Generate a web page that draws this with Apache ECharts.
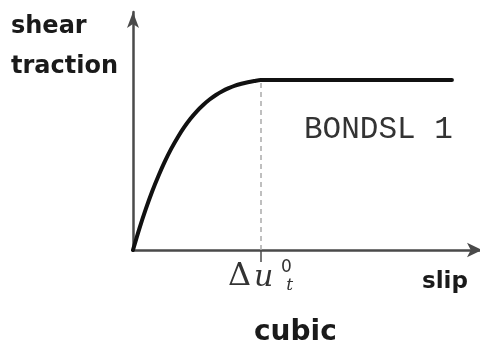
<!DOCTYPE html>
<html>
<head>
<meta charset="utf-8">
<script src="https://cdn.jsdelivr.net/npm/echarts@6/dist/echarts.min.js"></script>
<style>
  html, body { margin: 0; padding: 0; background: #fff; }
  #chart { width: 480px; height: 345px; }
</style>
</head>
<body>
<div id="chart"></div>
<script>
// Slip as a fraction of the peak slip Δu_t^0, traction as a fraction of its peak value
const slipRatio = [0, 0.05, 0.1, 0.15, 0.2, 0.25, 0.3, 0.35, 0.4, 0.45, 0.5,
                   0.55, 0.6, 0.65, 0.7, 0.75, 0.8, 0.85, 0.9, 0.95, 1.0, 2.5];
const tractionRatio = [0, 0.126, 0.240, 0.344, 0.437, 0.521, 0.596, 0.662, 0.721, 0.772, 0.816,
                       0.853, 0.885, 0.912, 0.934, 0.952, 0.967, 0.978, 0.987, 0.994, 1.0, 1.0];
const peakSlip = 1.0;
const peakTraction = 1.0;
const tickValues = [peakSlip];

const curve = slipRatio.map((s, i) => [s, tractionRatio[i]]);

const ink = '#1a1a1a';
const boldFont = '"DejaVu Sans", sans-serif';

const chart = echarts.init(document.getElementById('chart'));
chart.setOption({
  animation: false,
  backgroundColor: '#fff',
  grid: { left: 133, right: 0, top: 12, bottom: 95, containLabel: false, outerBoundsMode: 'none' },
  xAxis: {
    type: 'value', min: 0, max: 2.72,
    splitLine: { show: false },
    axisLine: {
      lineStyle: { color: '#4a4a4a', width: 2.5 },
      symbol: ['none', 'arrow'], symbolSize: [11, 15], symbolOffset: [0, 2]
    },
    axisTick: { show: true, customValues: tickValues, length: 12, inside: false,
                lineStyle: { color: '#4a4a4a', width: 1.5 } },
    axisLabel: {
      show: true, customValues: tickValues, margin: 6,
      formatter: () => '{d|Δ}{u|u}{sup|0}{sub|t}',
      rich: {
        d:   { fontFamily: 'DejaVu Serif, serif', fontSize: 32, color: '#333', lineHeight: 44, verticalAlign: 'bottom', padding: [0, 3, 7, 0] },
        u:   { fontFamily: 'DejaVu Serif, serif', fontStyle: 'italic', fontSize: 30, color: '#333', lineHeight: 44, verticalAlign: 'bottom', padding: [0, 13, 7, 0] },
        sup: { fontFamily: 'DejaVu Sans, sans-serif', fontSize: 17, color: '#333', width: 0, verticalAlign: 'top', lineHeight: 18, padding: [3, 0, 0, 0] },
        sub: { fontFamily: 'DejaVu Serif, serif', fontStyle: 'italic', fontSize: 17, color: '#333', verticalAlign: 'bottom', lineHeight: 18, padding: [0, 0, 6, 0] }
      }
    }
  },
  yAxis: {
    type: 'value', min: 0, max: 1.4,
    splitLine: { show: false },
    axisTick: { show: false },
    axisLabel: { show: false },
    axisLine: {
      lineStyle: { color: '#4a4a4a', width: 2.5 },
      symbol: ['none', 'arrow'], symbolSize: [9, 16], symbolOffset: [0, 0]
    }
  },
  series: [
    {
      type: 'line',
      data: curve,
      smooth: 0.3,
      showSymbol: false,
      lineStyle: { color: '#111', width: 4, join: 'round', cap: 'round' },
      markLine: {
        silent: true,
        symbol: ['none', 'none'],
        label: { show: false },
        lineStyle: { color: '#aaa', width: 1.5, type: [5, 4] },
        data: [[{ coord: [peakSlip, 0] }, { coord: [peakSlip, peakTraction] }]]
      }
    }
  ],
  graphic: [
    { type: 'text', left: 11, top: 15, style: { text: 'shear', font: 'bold 24px ' + boldFont, fill: ink } },
    { type: 'text', left: 11, top: 55, style: { text: 'traction', font: 'bold 24px ' + boldFont, fill: ink } },
    { type: 'text', left: 304, top: 114, style: { text: 'BONDSL 1', font: '31px "Liberation Mono", "Courier New", monospace', fill: '#333' } },
    { type: 'text', left: 422, top: 271, style: { text: 'slip', font: 'bold 23px ' + boldFont, fill: ink } },
    { type: 'text', left: 254, top: 319, style: { text: 'cubic', font: 'bold 28px ' + boldFont, fill: ink } }
  ]
});
</script>
</body>
</html>
